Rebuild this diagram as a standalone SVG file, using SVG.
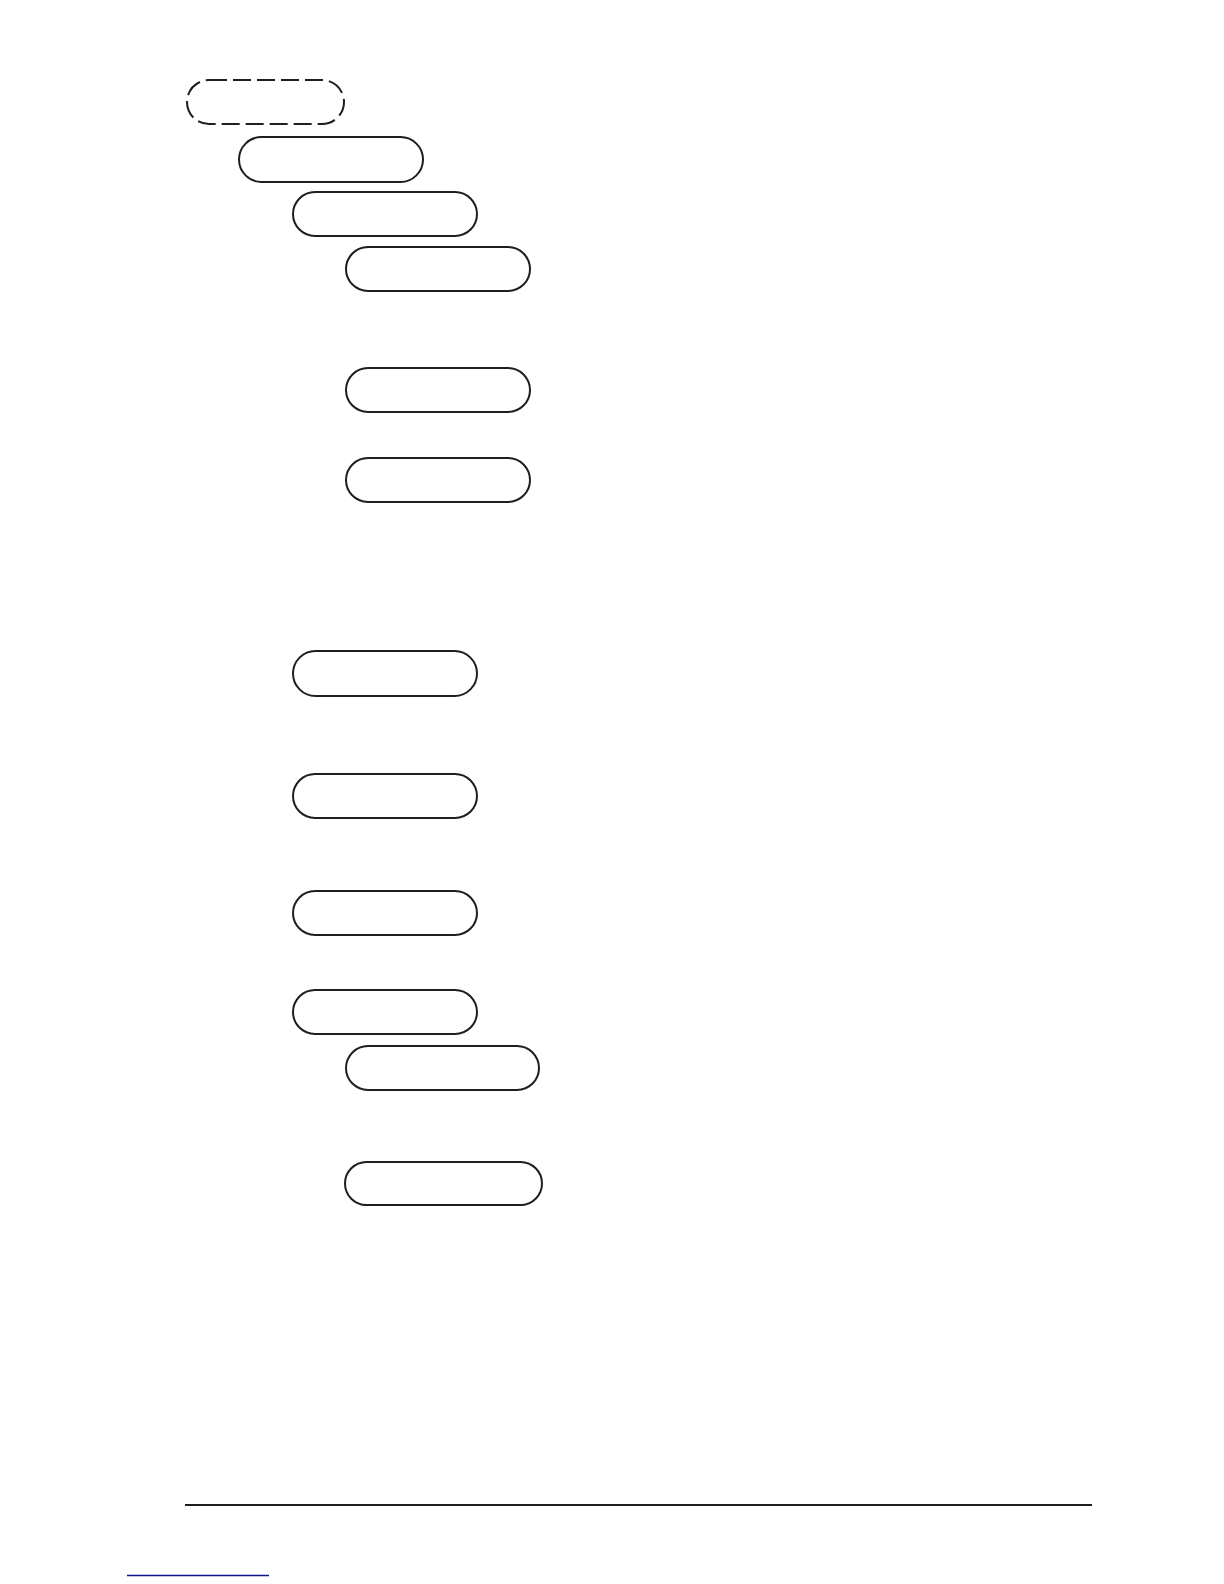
<svg xmlns="http://www.w3.org/2000/svg" width="1224" height="1584" viewBox="0 0 1224 1584">
<style>
.pill{fill:none;stroke:#1e1e1e;stroke-width:2}
.dash{stroke-dasharray:18 6}
</style>
<rect width="1224" height="1584" fill="#ffffff"/>
<g id="node-dashed"><path class="pill dash" d="M209,80 H322 A22,22 0 0 1 322,124 H209 A22,22 0 0 1 209,80 Z"/></g>
<g id="node-2"><rect class="pill" x="239" y="137" width="184" height="45" rx="22.5"/></g>
<g id="node-3"><rect class="pill" x="293" y="192" width="184" height="44" rx="22"/></g>
<g id="node-4"><rect class="pill" x="346" y="247" width="184" height="44" rx="22"/></g>
<g id="node-5"><rect class="pill" x="346" y="368" width="184" height="44" rx="22"/></g>
<g id="node-6"><rect class="pill" x="346" y="458" width="184" height="44" rx="22"/></g>
<g id="node-7"><rect class="pill" x="293" y="651" width="184" height="45" rx="22.5"/></g>
<g id="node-8"><rect class="pill" x="293" y="774" width="184" height="44" rx="22"/></g>
<g id="node-9"><rect class="pill" x="293" y="891" width="184" height="44" rx="22"/></g>
<g id="node-10"><rect class="pill" x="293" y="990" width="184" height="44" rx="22"/></g>
<g id="node-11"><rect class="pill" x="346" y="1046" width="193" height="44" rx="22"/></g>
<g id="node-12"><rect class="pill" x="345" y="1162" width="197" height="43" rx="21.5"/></g>
<g id="connectors"></g>
<g id="footer">
<line x1="185" y1="1505" x2="1092" y2="1505" stroke="#1e1e1e" stroke-width="2.2"/>
<line x1="127" y1="1575.5" x2="269" y2="1575.5" stroke="#14148c" stroke-width="1.6"/>
</g>
</svg>
